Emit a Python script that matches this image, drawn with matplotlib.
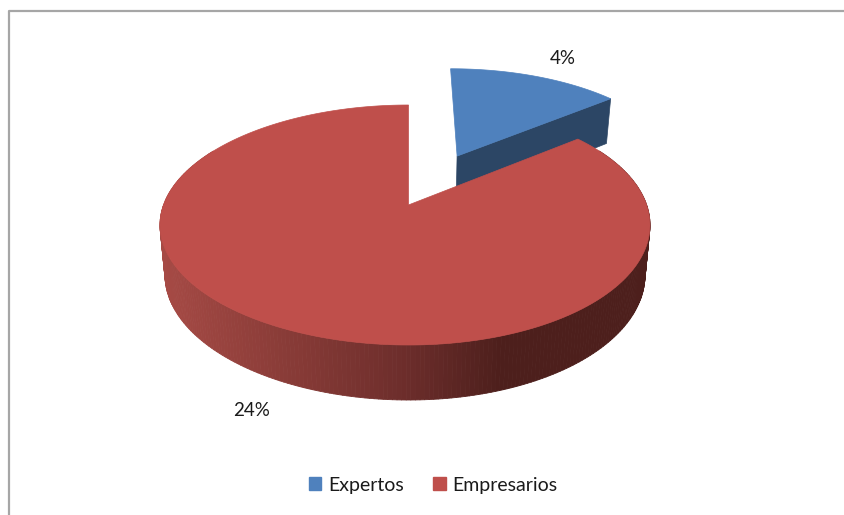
import numpy as np
import matplotlib
matplotlib.use("Agg")
import matplotlib.pyplot as plt
from matplotlib.collections import PolyCollection
from matplotlib.patches import Patch

categories = ["Expertos", "Empresarios"]
values = [4, 24]
value_labels = ["4%", "24%"]

BLUE, BLUE_DARK = "#4F81BD", "#2C4665"
RED = "#BF4F4B"
WALL_X = [166, 300, 400, 500, 650]
WALL_RGB = np.array([[0xA6, 0x4A, 0x45], [0x86, 0x3A, 0x36], [0x6E, 0x2E, 0x2C],
                     [0x4D, 0x1F, 0x1C], [0x4D, 0x1F, 0x1C]]) / 255

TOP = (405, 225, 245, 120)      # ellipse of the top face, px
BOT = (405, 275, 240, 125)      # ellipse of the bottom face, px
PERSP = 0.167
EXPLODE = 0.5

fig = plt.figure(figsize=(8.44, 5.15), dpi=100, facecolor="white")
ax = fig.add_axes([0, 0, 1, 1])
ax.set_xlim(0, 844)
ax.set_ylim(515, 0)
ax.axis("off")


def project(u, v, e, skew=3.5):
    """Perspective view of the unit disc onto the ellipse e."""
    cx, cy, rx, ry = e
    w = 1 + PERSP * v
    X = u * np.sqrt(1 - PERSP ** 2) / w
    Y = (v + PERSP) / w
    return cx + rx * X + skew * (1 - np.clip(X, -1, 1) ** 2), cy - ry * Y


def wedge(a0, a1, off=(0, 0), n=200):
    t = np.linspace(a0, a1, n)
    return np.sin(t) + off[0], np.cos(t) + off[1]


fr = np.cumsum([0] + values) / sum(values) * 2 * np.pi
mid = (fr[0] + fr[1]) / 2
off = (EXPLODE * np.sin(mid), EXPLODE * np.cos(mid))

# frame
ax.plot([8.5, 8.5, 844], [515, 10.5, 10.5], color="#A6A6A6", lw=1.6, zorder=0)

# exploded slice: radial wall, then top face
u, v = wedge(fr[0], fr[1], off)
au, av = off
xt, yt = project(u[-1], v[-1], TOP)
xb, yb = project(u[-1], v[-1], BOT)
axt, ayt = project(au, av, TOP)
axb, ayb = project(au, av, BOT)
ax.fill([axt, xt, xb, axb], [ayt, yt, yb, ayb], color=BLUE_DARK, lw=0.5, zorder=1)
x, y = project(np.r_[au, u], np.r_[av, v], TOP)
ax.fill(x, y, color=BLUE, lw=0.5, zorder=2)

# large slice: shaded outer wall, then top face
u, v = wedge(max(fr[1], np.radians(60)), np.radians(300), n=260)
xt, yt = project(u, v, TOP)
xb, yb = project(u, v, BOT)
quads, cols = [], []
for i in range(len(u) - 1):
    quads.append([(xt[i], yt[i]), (xt[i + 1], yt[i + 1]), (xb[i + 1], yb[i + 1]), (xb[i], yb[i])])
    xm = (xb[i] + xb[i + 1]) / 2
    cols.append([np.interp(xm, WALL_X, WALL_RGB[:, c]) for c in range(3)])
ax.add_collection(PolyCollection(quads, facecolors=cols, edgecolors=cols, linewidths=0.6, zorder=3))

u, v = wedge(fr[1], fr[2], n=500)
x, y = project(np.r_[0, u], np.r_[0, v], TOP)
ax.fill(x, y, color=RED, lw=0.5, zorder=4)

# value labels
font = "Lato"
ax.text(563, 59, value_labels[0], ha="center", va="center", fontsize=13.5, family=font, color="#1A1A1A", zorder=5)
ax.text(252, 410, value_labels[1], ha="center", va="center", fontsize=13.5, family=font, color="#1A1A1A", zorder=5)

# legend
handles = [Patch(color=BLUE), Patch(color=RED)]
ax.legend(handles, categories, ncol=2, frameon=False, loc="center",
          bbox_to_anchor=(433 / 844, 1 - 485 / 515), bbox_transform=ax.transAxes,
          prop={"family": font, "size": 14}, labelcolor="#1A1A1A",
          handlelength=0.65, handleheight=0.65, handletextpad=0.35, columnspacing=1.5)

fig.savefig("out.png", dpi=100)
